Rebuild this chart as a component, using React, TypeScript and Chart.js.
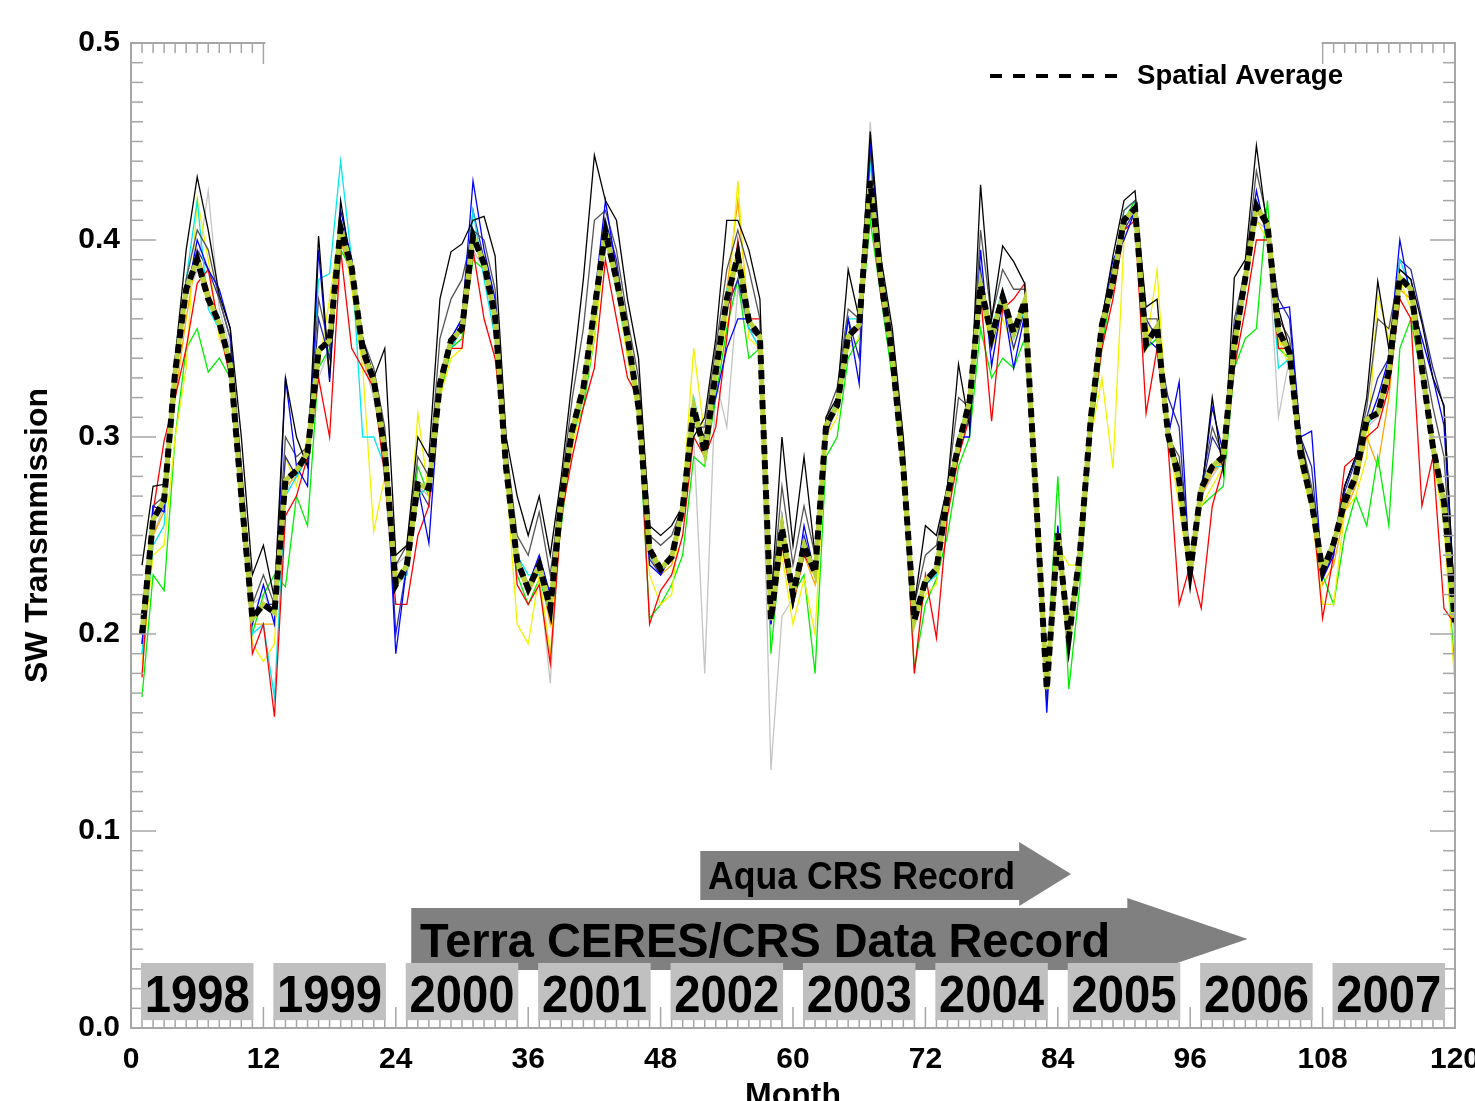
import React, { useEffect, useRef } from 'react';
import { Chart, registerables } from 'chart.js';

Chart.register(...registerables);

const FONT = "'Liberation Sans', Arial, Helvetica, sans-serif";

// Months 1..120 (Jan 1998 .. Dec 2007)
const months: number[] = Array.from({ length: 120 }, (_, i) => i + 1);
const xTicks: number[] = [0, 12, 24, 36, 48, 60, 72, 84, 96, 108, 120];
const yearLabels: string[] = ['1998', '1999', '2000', '2001', '2002', '2003', '2004', '2005', '2006', '2007'];

const spatialAverage: number[] = [
  0.200, 0.258, 0.268, 0.333, 0.375, 0.390, 0.370, 0.358, 0.337, 0.270, 0.208, 0.215,
  0.211, 0.278, 0.283, 0.292, 0.344, 0.349, 0.406, 0.386, 0.344, 0.329, 0.293, 0.225,
  0.235, 0.276, 0.274, 0.327, 0.349, 0.355, 0.402, 0.388, 0.361, 0.284, 0.237, 0.223,
  0.235, 0.213, 0.268, 0.304, 0.325, 0.365, 0.404, 0.380, 0.351, 0.315, 0.243, 0.233,
  0.239, 0.264, 0.315, 0.292, 0.333, 0.370, 0.392, 0.359, 0.351, 0.207, 0.254, 0.220,
  0.245, 0.231, 0.306, 0.316, 0.351, 0.357, 0.430, 0.379, 0.341, 0.284, 0.207, 0.227,
  0.233, 0.270, 0.296, 0.318, 0.377, 0.351, 0.371, 0.353, 0.369, 0.272, 0.172, 0.251,
  0.198, 0.241, 0.310, 0.357, 0.379, 0.410, 0.416, 0.347, 0.356, 0.301, 0.278, 0.232,
  0.274, 0.285, 0.290, 0.347, 0.381, 0.417, 0.408, 0.354, 0.343, 0.291, 0.267, 0.232,
  0.246, 0.267, 0.280, 0.309, 0.312, 0.333, 0.381, 0.375, 0.335, 0.295, 0.267, 0.206,
];

const siteBlack: number[] = [
  0.235, 0.275, 0.276, 0.340, 0.395, 0.432, 0.405, 0.372, 0.355, 0.300, 0.230, 0.245,
  0.218, 0.330, 0.300, 0.285, 0.402, 0.330, 0.420, 0.385, 0.350, 0.330, 0.345, 0.240,
  0.245, 0.300, 0.290, 0.370, 0.394, 0.398, 0.410, 0.412, 0.392, 0.300, 0.270, 0.250,
  0.270, 0.240, 0.280, 0.330, 0.380, 0.443, 0.420, 0.410, 0.370, 0.340, 0.255, 0.250,
  0.255, 0.265, 0.300, 0.310, 0.350, 0.410, 0.410, 0.395, 0.370, 0.215, 0.300, 0.245,
  0.290, 0.240, 0.310, 0.320, 0.385, 0.360, 0.455, 0.390, 0.355, 0.300, 0.215, 0.255,
  0.250, 0.275, 0.337, 0.305, 0.428, 0.360, 0.397, 0.389, 0.378, 0.275, 0.178, 0.245,
  0.205, 0.245, 0.315, 0.360, 0.392, 0.420, 0.425, 0.366, 0.370, 0.300, 0.285, 0.235,
  0.270, 0.320, 0.282, 0.381, 0.390, 0.448, 0.405, 0.365, 0.345, 0.300, 0.270, 0.235,
  0.245, 0.275, 0.290, 0.320, 0.379, 0.345, 0.385, 0.380, 0.358, 0.330, 0.316, 0.212,
];

const siteDarkGray: number[] = [
  0.210, 0.265, 0.270, 0.340, 0.380, 0.405, 0.395, 0.370, 0.350, 0.285, 0.215, 0.230,
  0.215, 0.300, 0.290, 0.295, 0.370, 0.345, 0.410, 0.390, 0.350, 0.335, 0.305, 0.235,
  0.245, 0.290, 0.280, 0.350, 0.370, 0.380, 0.405, 0.400, 0.375, 0.295, 0.250, 0.240,
  0.262, 0.230, 0.275, 0.320, 0.355, 0.410, 0.415, 0.395, 0.360, 0.330, 0.250, 0.245,
  0.250, 0.265, 0.305, 0.305, 0.345, 0.385, 0.405, 0.385, 0.360, 0.215, 0.275, 0.235,
  0.265, 0.240, 0.310, 0.325, 0.365, 0.360, 0.445, 0.385, 0.350, 0.295, 0.215, 0.240,
  0.245, 0.275, 0.320, 0.315, 0.405, 0.360, 0.385, 0.375, 0.375, 0.275, 0.178, 0.248,
  0.205, 0.245, 0.315, 0.360, 0.385, 0.415, 0.420, 0.360, 0.360, 0.300, 0.290, 0.235,
  0.275, 0.305, 0.290, 0.360, 0.385, 0.435, 0.410, 0.360, 0.350, 0.300, 0.275, 0.235,
  0.248, 0.275, 0.290, 0.315, 0.360, 0.355, 0.385, 0.380, 0.345, 0.315, 0.290, 0.210,
];

const siteLightGray: number[] = [
  0.180, 0.250, 0.265, 0.330, 0.370, 0.385, 0.425, 0.365, 0.345, 0.275, 0.215, 0.220,
  0.210, 0.270, 0.285, 0.290, 0.330, 0.345, 0.400, 0.380, 0.340, 0.320, 0.290, 0.235,
  0.240, 0.275, 0.270, 0.320, 0.345, 0.350, 0.395, 0.385, 0.355, 0.280, 0.235, 0.225,
  0.230, 0.175, 0.270, 0.300, 0.320, 0.360, 0.410, 0.385, 0.345, 0.310, 0.240, 0.232,
  0.242, 0.265, 0.300, 0.180, 0.330, 0.305, 0.375, 0.355, 0.345, 0.131, 0.209, 0.218,
  0.245, 0.232, 0.300, 0.315, 0.350, 0.355, 0.460, 0.375, 0.340, 0.285, 0.210, 0.228,
  0.235, 0.268, 0.295, 0.315, 0.370, 0.350, 0.365, 0.350, 0.365, 0.270, 0.175, 0.250,
  0.200, 0.240, 0.305, 0.350, 0.375, 0.405, 0.410, 0.345, 0.350, 0.300, 0.280, 0.235,
  0.270, 0.280, 0.288, 0.340, 0.375, 0.410, 0.405, 0.310, 0.340, 0.290, 0.265, 0.230,
  0.245, 0.265, 0.278, 0.305, 0.310, 0.330, 0.375, 0.370, 0.330, 0.290, 0.265, 0.205,
];

const siteBlue: number[] = [
  0.195, 0.265, 0.262, 0.335, 0.370, 0.400, 0.385, 0.375, 0.355, 0.265, 0.205, 0.225,
  0.205, 0.330, 0.285, 0.275, 0.395, 0.328, 0.415, 0.390, 0.350, 0.330, 0.300, 0.190,
  0.235, 0.275, 0.246, 0.325, 0.350, 0.360, 0.430, 0.395, 0.370, 0.290, 0.240, 0.225,
  0.240, 0.220, 0.265, 0.305, 0.325, 0.370, 0.420, 0.385, 0.350, 0.315, 0.235, 0.230,
  0.240, 0.260, 0.310, 0.300, 0.320, 0.345, 0.360, 0.360, 0.350, 0.205, 0.260, 0.215,
  0.255, 0.230, 0.300, 0.320, 0.360, 0.327, 0.450, 0.385, 0.345, 0.285, 0.210, 0.225,
  0.232, 0.268, 0.300, 0.300, 0.395, 0.336, 0.370, 0.335, 0.362, 0.270, 0.160, 0.255,
  0.195, 0.245, 0.300, 0.360, 0.390, 0.400, 0.415, 0.350, 0.345, 0.300, 0.328, 0.228,
  0.272, 0.315, 0.292, 0.355, 0.385, 0.425, 0.400, 0.365, 0.366, 0.300, 0.303, 0.228,
  0.240, 0.275, 0.290, 0.305, 0.320, 0.340, 0.400, 0.370, 0.350, 0.330, 0.306, 0.215,
];

const siteNavy: number[] = [
  0.195, 0.260, 0.265, 0.330, 0.375, 0.395, 0.385, 0.370, 0.350, 0.270, 0.210, 0.215,
  0.215, 0.290, 0.280, 0.290, 0.360, 0.340, 0.405, 0.390, 0.350, 0.330, 0.300, 0.200,
  0.235, 0.275, 0.265, 0.325, 0.350, 0.360, 0.415, 0.390, 0.365, 0.290, 0.235, 0.225,
  0.238, 0.215, 0.265, 0.305, 0.325, 0.365, 0.410, 0.390, 0.350, 0.320, 0.238, 0.230,
  0.240, 0.262, 0.310, 0.298, 0.330, 0.365, 0.380, 0.355, 0.350, 0.205, 0.258, 0.215,
  0.250, 0.230, 0.305, 0.318, 0.360, 0.340, 0.445, 0.385, 0.345, 0.285, 0.208, 0.225,
  0.232, 0.268, 0.300, 0.310, 0.385, 0.345, 0.370, 0.345, 0.365, 0.270, 0.165, 0.252,
  0.195, 0.242, 0.305, 0.360, 0.385, 0.405, 0.415, 0.360, 0.350, 0.320, 0.305, 0.228,
  0.272, 0.300, 0.290, 0.350, 0.385, 0.420, 0.405, 0.370, 0.360, 0.300, 0.285, 0.228,
  0.242, 0.272, 0.288, 0.310, 0.330, 0.340, 0.390, 0.385, 0.360, 0.335, 0.315, 0.212,
];

const siteCyan: number[] = [
  0.190, 0.245, 0.255, 0.330, 0.380, 0.420, 0.365, 0.355, 0.340, 0.260, 0.200, 0.205,
  0.168, 0.270, 0.280, 0.290, 0.380, 0.383, 0.440, 0.390, 0.300, 0.300, 0.285, 0.225,
  0.230, 0.270, 0.275, 0.330, 0.345, 0.355, 0.415, 0.380, 0.350, 0.285, 0.240, 0.230,
  0.230, 0.210, 0.265, 0.300, 0.320, 0.365, 0.405, 0.375, 0.345, 0.315, 0.240, 0.232,
  0.238, 0.265, 0.320, 0.295, 0.330, 0.375, 0.390, 0.355, 0.345, 0.210, 0.250, 0.220,
  0.245, 0.230, 0.305, 0.320, 0.360, 0.360, 0.440, 0.370, 0.340, 0.280, 0.205, 0.225,
  0.230, 0.265, 0.300, 0.320, 0.380, 0.355, 0.375, 0.350, 0.365, 0.270, 0.175, 0.245,
  0.200, 0.240, 0.310, 0.355, 0.375, 0.415, 0.420, 0.345, 0.355, 0.300, 0.275, 0.232,
  0.275, 0.285, 0.285, 0.345, 0.380, 0.415, 0.410, 0.335, 0.340, 0.290, 0.265, 0.230,
  0.245, 0.265, 0.280, 0.305, 0.315, 0.330, 0.390, 0.375, 0.335, 0.295, 0.270, 0.200,
];

const siteRed: number[] = [
  0.178, 0.262, 0.298, 0.320, 0.345, 0.378, 0.385, 0.355, 0.330, 0.285, 0.190, 0.205,
  0.158, 0.260, 0.270, 0.290, 0.330, 0.300, 0.395, 0.345, 0.335, 0.325, 0.280, 0.215,
  0.215, 0.250, 0.265, 0.330, 0.345, 0.345, 0.395, 0.360, 0.340, 0.290, 0.225, 0.215,
  0.225, 0.185, 0.260, 0.290, 0.315, 0.335, 0.390, 0.360, 0.330, 0.320, 0.205, 0.222,
  0.230, 0.250, 0.300, 0.290, 0.305, 0.350, 0.400, 0.360, 0.360, 0.210, 0.245, 0.215,
  0.240, 0.230, 0.300, 0.320, 0.350, 0.355, 0.420, 0.370, 0.345, 0.285, 0.180, 0.230,
  0.198, 0.260, 0.290, 0.310, 0.372, 0.308, 0.365, 0.370, 0.378, 0.270, 0.175, 0.250,
  0.205, 0.235, 0.305, 0.345, 0.370, 0.405, 0.410, 0.312, 0.345, 0.295, 0.215, 0.235,
  0.213, 0.265, 0.285, 0.335, 0.365, 0.400, 0.400, 0.345, 0.345, 0.290, 0.270, 0.208,
  0.240, 0.285, 0.290, 0.300, 0.305, 0.325, 0.370, 0.360, 0.265, 0.290, 0.213, 0.205,
];

const siteYellow: number[] = [
  0.185, 0.240, 0.245, 0.300, 0.335, 0.421, 0.390, 0.350, 0.340, 0.270, 0.195, 0.186,
  0.195, 0.290, 0.275, 0.300, 0.335, 0.370, 0.410, 0.375, 0.335, 0.252, 0.280, 0.230,
  0.235, 0.312, 0.270, 0.320, 0.340, 0.345, 0.400, 0.385, 0.355, 0.280, 0.205, 0.195,
  0.230, 0.190, 0.260, 0.295, 0.320, 0.350, 0.400, 0.375, 0.340, 0.310, 0.230, 0.215,
  0.220, 0.270, 0.345, 0.300, 0.325, 0.360, 0.430, 0.350, 0.345, 0.205, 0.240, 0.205,
  0.228, 0.200, 0.300, 0.310, 0.345, 0.350, 0.420, 0.375, 0.335, 0.280, 0.205, 0.220,
  0.225, 0.265, 0.290, 0.320, 0.370, 0.345, 0.360, 0.345, 0.365, 0.270, 0.175, 0.245,
  0.235, 0.235, 0.300, 0.330, 0.284, 0.400, 0.415, 0.345, 0.385, 0.300, 0.265, 0.225,
  0.265, 0.275, 0.285, 0.340, 0.375, 0.410, 0.400, 0.350, 0.335, 0.285, 0.262, 0.215,
  0.215, 0.262, 0.270, 0.290, 0.372, 0.350, 0.380, 0.365, 0.330, 0.290, 0.255, 0.173,
];

const siteGreen: number[] = [
  0.168, 0.230, 0.222, 0.300, 0.345, 0.355, 0.333, 0.340, 0.330, 0.280, 0.200, 0.220,
  0.230, 0.224, 0.270, 0.255, 0.335, 0.345, 0.395, 0.385, 0.350, 0.330, 0.290, 0.225,
  0.235, 0.285, 0.270, 0.320, 0.345, 0.350, 0.390, 0.385, 0.360, 0.280, 0.230, 0.215,
  0.228, 0.210, 0.255, 0.300, 0.315, 0.350, 0.400, 0.375, 0.345, 0.310, 0.208, 0.215,
  0.225, 0.240, 0.290, 0.285, 0.320, 0.355, 0.380, 0.340, 0.345, 0.190, 0.250, 0.220,
  0.230, 0.180, 0.290, 0.300, 0.340, 0.350, 0.410, 0.370, 0.330, 0.280, 0.182, 0.215,
  0.228, 0.250, 0.285, 0.300, 0.355, 0.330, 0.340, 0.335, 0.350, 0.270, 0.178, 0.280,
  0.172, 0.225, 0.300, 0.345, 0.380, 0.410, 0.420, 0.345, 0.350, 0.300, 0.275, 0.230,
  0.265, 0.270, 0.275, 0.335, 0.350, 0.355, 0.420, 0.345, 0.340, 0.290, 0.262, 0.230,
  0.215, 0.250, 0.270, 0.255, 0.290, 0.255, 0.345, 0.360, 0.330, 0.300, 0.260, 0.180,
];

const siteOrange: number[] = [
  0.190, 0.250, 0.262, 0.320, 0.360, 0.395, 0.375, 0.355, 0.335, 0.270, 0.205, 0.205,
  0.205, 0.275, 0.280, 0.290, 0.345, 0.350, 0.400, 0.380, 0.340, 0.325, 0.290, 0.225,
  0.230, 0.270, 0.275, 0.325, 0.345, 0.355, 0.400, 0.385, 0.360, 0.285, 0.235, 0.220,
  0.232, 0.205, 0.265, 0.300, 0.320, 0.360, 0.405, 0.380, 0.350, 0.315, 0.240, 0.230,
  0.235, 0.260, 0.310, 0.295, 0.330, 0.375, 0.420, 0.360, 0.350, 0.205, 0.250, 0.215,
  0.240, 0.225, 0.305, 0.315, 0.350, 0.355, 0.430, 0.375, 0.340, 0.285, 0.205, 0.225,
  0.230, 0.268, 0.295, 0.315, 0.375, 0.350, 0.370, 0.350, 0.365, 0.270, 0.172, 0.248,
  0.200, 0.238, 0.305, 0.355, 0.375, 0.410, 0.415, 0.345, 0.355, 0.300, 0.275, 0.228,
  0.270, 0.282, 0.288, 0.345, 0.378, 0.415, 0.405, 0.350, 0.342, 0.290, 0.265, 0.225,
  0.235, 0.262, 0.275, 0.300, 0.285, 0.320, 0.375, 0.370, 0.335, 0.295, 0.265, 0.200,
];

const members: { color: string; values: number[] }[] = [
  { color: '#000000', values: siteBlack },
  { color: '#0000ff', values: siteBlue },
  { color: '#555555', values: siteDarkGray },
  { color: '#ff0000', values: siteRed },
  { color: '#00e8f0', values: siteCyan },
  { color: '#2a2aa8', values: siteNavy },
  { color: '#f2f200', values: siteYellow },
  { color: '#00ee00', values: siteGreen },
  { color: '#ffa500', values: siteOrange },
  { color: '#c4c4c4', values: siteLightGray },
];

const toPoints = (vals: number[]) => months.map((m, i) => ({ x: m, y: vals[i] }));

function fitText(ctx: CanvasRenderingContext2D, text: string, x: number, y: number, size: number, width: number, align: CanvasTextAlign, baseline: CanvasTextBaseline) {
  ctx.save();
  ctx.font = `bold ${size}px ${FONT}`;
  const w = ctx.measureText(text).width;
  const s = width / w;
  ctx.translate(x, y);
  ctx.scale(s, 1);
  ctx.textAlign = align;
  ctx.textBaseline = baseline;
  ctx.fillStyle = '#000000';
  ctx.fillText(text, 0, 0);
  ctx.restore();
}

const idlAxes = {
  id: 'idlAxes',
  afterDatasetsDraw(chart: any) {
    const { ctx, chartArea: a, scales } = chart;
    const xs = scales.x;
    const ys = scales.y;
    ctx.save();
    ctx.strokeStyle = '#a6a6a6';
    ctx.lineWidth = 1.5;
    const seg = (x1: number, y1: number, x2: number, y2: number) => {
      ctx.beginPath();
      ctx.moveTo(x1, y1);
      ctx.lineTo(x2, y2);
      ctx.stroke();
    };
    for (let m = 0; m <= 120; m++) {
      const px = xs.getPixelForValue(m);
      const len = m % 12 === 0 ? 21 : 10;
      seg(px, a.bottom, px, a.bottom - len);
      seg(px, a.top, px, a.top + len);
    }
    for (let k = 0; k <= 50; k++) {
      const py = ys.getPixelForValue(k / 100);
      const len = k % 10 === 0 ? 25 : 12;
      seg(a.left, py, a.left + len, py);
      seg(a.right, py, a.right - len, py);
    }
    ctx.lineWidth = 2;
    ctx.strokeRect(a.left, a.top, a.right - a.left, a.bottom - a.top);
    // blank part of the top frame behind the legend
    ctx.fillStyle = '#ffffff';
    const x12 = xs.getPixelForValue(12);
    const x108 = xs.getPixelForValue(108);
    ctx.fillRect(x12 + 2, a.top - 4, x108 - x12 - 3, 26);
    ctx.restore();
  },
  afterDraw(chart: any) {
    const { ctx, scales } = chart;
    const xs = scales.x;
    const ys = scales.y;
    const X = (m: number) => xs.getPixelForValue(m);
    const Y = (v: number) => ys.getPixelForValue(v);
    ctx.save();

    // legend
    ctx.strokeStyle = '#000000';
    ctx.lineWidth = 4;
    ctx.setLineDash([12, 11]);
    ctx.beginPath();
    ctx.moveTo(990, 76);
    ctx.lineTo(1118, 76);
    ctx.stroke();
    ctx.setLineDash([]);
    fitText(ctx, 'Spatial Average', 1137, 76, 28, 206, 'left', 'middle');

    // arrows
    const arrow = (x0: number, x1: number, xt: number, yTop: number, yBot: number, hTop: number, hBot: number) => {
      const yc = (hTop + hBot) / 2;
      ctx.beginPath();
      ctx.moveTo(x0, yTop);
      ctx.lineTo(x1, yTop);
      ctx.lineTo(x1, hTop);
      ctx.lineTo(xt, yc);
      ctx.lineTo(x1, hBot);
      ctx.lineTo(x1, yBot);
      ctx.lineTo(x0, yBot);
      ctx.closePath();
      ctx.fill();
    };
    ctx.fillStyle = '#808080';
    arrow(X(51.6), X(80.5), X(85.2), Y(0.0898), Y(0.0650), Y(0.0944), Y(0.0619));
    arrow(X(25.4), X(90.3), X(101.2), Y(0.0609), Y(0.0294), Y(0.0660), Y(0.0244));

    // year boxes
    ctx.fillStyle = '#c0c0c0';
    yearLabels.forEach((_, k) => {
      const x0 = X(12 * k + 0.9);
      const x1 = X(12 * k + 11.1);
      const y0 = Y(0.0330);
      const y1 = Y(0.0040);
      ctx.fillRect(x0, y0, x1 - x0, y1 - y0);
    });

    fitText(ctx, 'Aqua CRS Record', X(52.3), Y(0.0705), 38, 307, 'left', 'alphabetic');
    fitText(ctx, 'Terra CERES/CRS Data Record', X(26.2), Y(0.0360), 49, 690, 'left', 'alphabetic');
    yearLabels.forEach((lab, k) => {
      fitText(ctx, lab, X(12 * k + 6), Y(0.0081), 51, 105, 'center', 'alphabetic');
    });
    ctx.restore();
  },
};

export default function App() {
  const ref = useRef<HTMLCanvasElement | null>(null);
  useEffect(() => {
    if (!ref.current) return;
    const datasets: any[] = [
      {
        label: 'Spatial Average',
        data: toPoints(spatialAverage),
        borderColor: '#000000',
        borderWidth: 6,
        borderDash: [9, 6],
        pointRadius: 0,
        tension: 0,
      },
      {
        label: 'Spatial Average (under)',
        data: toPoints(spatialAverage),
        borderColor: '#b8d23c',
        borderWidth: 5,
        pointRadius: 0,
        tension: 0,
      },
      ...members.map((mb, i) => ({
        label: `Site ${i + 1}`,
        data: toPoints(mb.values),
        borderColor: mb.color,
        borderWidth: 1.3,
        pointRadius: 0,
        tension: 0,
      })),
    ];
    const chart = new Chart(ref.current, {
      type: 'line',
      data: { datasets },
      options: {
        responsive: false,
        animation: false,
        devicePixelRatio: 1,
        layout: { padding: { left: 0, top: 43, right: 20, bottom: 0 } },
        plugins: { legend: { display: false }, tooltip: { enabled: false } },
        scales: {
          x: {
            type: 'linear',
            min: 0,
            max: 120,
            border: { display: false },
            grid: { display: false, drawTicks: false },
            afterBuildTicks: (s: any) => { s.ticks = xTicks.map((v) => ({ value: v })); },
            ticks: {
              autoSkip: false,
              maxRotation: 0,
              padding: 14,
              color: '#000000',
              font: { family: FONT, size: 30, weight: 'bold' },
              callback: (v: any) => String(v),
            },
            title: {
              display: true,
              text: 'Month',
              color: '#000000',
              padding: 0,
              font: { family: FONT, size: 32, weight: 'bold', lineHeight: 0.3 },
            },
            afterFit: (s: any) => { s.height = 73; s.paddingLeft = 0; s.paddingRight = 0; },
          },
          y: {
            type: 'linear',
            min: 0,
            max: 0.5,
            border: { display: false },
            grid: { display: false, drawTicks: false },
            ticks: {
              stepSize: 0.1,
              padding: 11,
              color: '#000000',
              font: { family: FONT, size: 30, weight: 'bold' },
              callback: (v: any) => Number(v).toFixed(1),
            },
            title: {
              display: true,
              text: 'SW Transmmission',
              color: '#000000',
              padding: { top: 19, bottom: 0 },
              font: { family: FONT, size: 32, weight: 'bold' },
            },
            afterFit: (s: any) => { s.width = 131; s.paddingTop = 0; s.paddingBottom = 0; },
          },
        },
      },
      plugins: [idlAxes],
    });
    return () => chart.destroy();
  }, []);
  return (
    <div style={{ position: 'absolute', left: 0, top: 0, width: 1475, height: 1101, background: '#ffffff' }}>
      <canvas ref={ref} width={1475} height={1101} style={{ display: 'block' }} />
    </div>
  );
}
